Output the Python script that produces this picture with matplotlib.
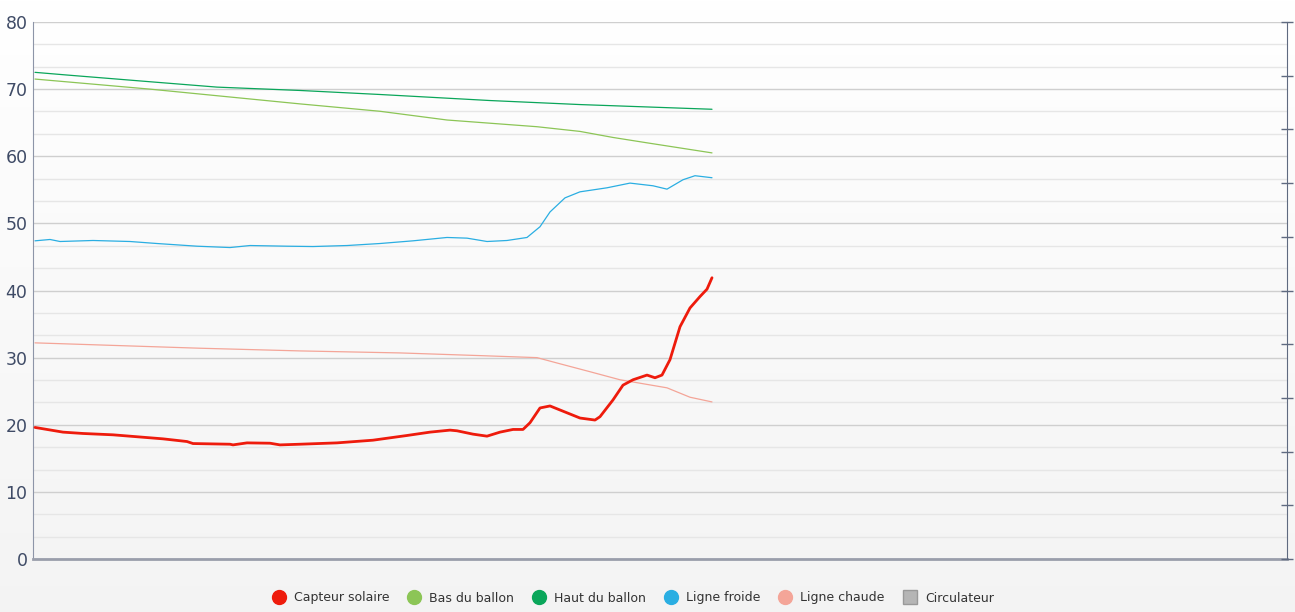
import numpy as np
import matplotlib
matplotlib.use('Agg')
import matplotlib.pyplot as plt
from matplotlib.lines import Line2D

# x values: time index, y values: temperature (deg C)
capteur_x = [0, 2.8, 4.8, 7.8, 12.8, 15.2, 15.8, 19.5, 19.8, 21.2, 23.5, 24.5, 26.5,
             30.2, 33.8, 37.2, 39.5, 41.5, 42.2, 43.8, 45.2, 46.5, 47.8, 48.8, 49.5,
             50.5, 51.5, 52.5, 54.5, 56.0, 56.5, 57.8, 58.8, 59.8, 61.2, 62.0, 62.7,
             63.5, 64.5, 65.5, 66.5, 67.2, 67.7]
capteur_y = [19.6, 18.9, 18.7, 18.5, 17.9, 17.5, 17.2, 17.1, 17.0, 17.3, 17.25, 17.0,
             17.1, 17.3, 17.7, 18.4, 18.9, 19.2, 19.1, 18.6, 18.3, 18.9, 19.3, 19.3,
             20.3, 22.5, 22.8, 22.2, 21.0, 20.7, 21.2, 23.7, 25.9, 26.7, 27.4, 27.0,
             27.4, 29.7, 34.6, 37.4, 39.1, 40.2, 41.9]

bas_x = [0, 11.5, 26.5, 34.5, 41.2, 50.2, 54.5, 57.8, 61.2, 67.7]
bas_y = [71.5, 70.0, 67.8, 66.7, 65.4, 64.4, 63.7, 62.8, 62.0, 60.5]

haut_x = [0, 3.2, 11.5, 18.2, 26.5, 34.5, 45.5, 54.5, 67.7]
haut_y = [72.5, 72.1, 71.1, 70.3, 69.8, 69.2, 68.3, 67.7, 67.0]

froide_x = [0, 1.5, 2.5, 5.8, 9.5, 12.2, 16.2, 19.5, 21.5, 25.2, 27.8, 31.2, 34.5,
            37.8, 41.2, 43.2, 45.2, 47.2, 49.2, 50.5, 51.5, 53.0, 54.5, 57.2, 59.5,
            61.8, 63.2, 64.8, 66.0, 67.7]
froide_y = [47.4, 47.6, 47.3, 47.45, 47.3, 47.0, 46.6, 46.4, 46.7, 46.6, 46.55, 46.7,
            47.0, 47.4, 47.9, 47.8, 47.3, 47.45, 47.9, 49.5, 51.7, 53.8, 54.7, 55.3,
            56.0, 55.6, 55.1, 56.5, 57.1, 56.8]

chaude_x = [0, 16.5, 26.5, 36.5, 44.5, 50.2, 52.2, 55.5, 58.5, 63.2, 65.5, 67.7]
chaude_y = [32.2, 31.4, 31.0, 30.7, 30.3, 30.0, 29.2, 27.9, 26.7, 25.5, 24.1, 23.4]

labels = ['Capteur solaire', 'Bas du ballon', 'Haut du ballon', 'Ligne froide',
          'Ligne chaude', 'Circulateur']
colors = ['#ee1b0c', '#8cc556', '#0aa65a', '#2aaee2', '#f4a598', '#b5b5b5']

fig = plt.figure(figsize=(12.95, 6.12), dpi=100)

# background gradient over the whole figure
bg = fig.add_axes([0, 0, 1, 1], zorder=-10)
grad = np.linspace(1.0, 0.955, 256).reshape(-1, 1)
bg.imshow(np.dstack([grad, grad, grad]), aspect='auto', extent=[0, 1, 0, 1])
bg.axis('off')

ax = fig.add_axes([33 / 1295, 53 / 612, 1254 / 1295, 537 / 612])
ax.patch.set_alpha(0)

kw = dict(solid_joinstyle='round', solid_capstyle='round')
ax.plot(chaude_x, chaude_y, color=colors[4], lw=0.9, zorder=3, **kw)
ax.plot(bas_x, bas_y, color=colors[1], lw=0.9, zorder=3, **kw)
ax.plot(haut_x, haut_y, color=colors[2], lw=0.9, zorder=3, **kw)
ax.plot(froide_x, froide_y, color=colors[3], lw=0.9, zorder=3, **kw)
ax.plot(capteur_x, capteur_y, color=colors[0], lw=2.0, zorder=4, **kw)

ax.set_xlim(-0.2, 125.2)
ax.set_ylim(0, 80)
ax.set_yticks(np.arange(0, 81, 10))
ax.set_yticks(np.arange(0, 80, 10 / 3), minor=True)
ax.set_xticks([])
ax.grid(True, which='major', axis='y', color='#cfcfcf', lw=1)
ax.grid(True, which='minor', axis='y', color='#e6e6e6', lw=1)
ax.tick_params(axis='y', which='both', length=0, labelsize=12.5, colors='#3f4b66', pad=4)
ax.spines['top'].set_visible(False)
ax.spines['right'].set_visible(False)
ax.spines['left'].set_color('#8d95a8')
ax.spines['bottom'].set_color('#9a9eab')
ax.spines['bottom'].set_linewidth(2)

# right axis with unlabeled ticks
ax2 = ax.twinx()
ax2.set_ylim(0, 10)
ax2.set_yticks(range(11))
ax2.set_yticklabels([])
ax2.tick_params(axis='y', direction='inout', length=8, color='#5f6a80', width=1)
for s in ['top', 'left', 'bottom']:
    ax2.spines[s].set_visible(False)
ax2.spines['right'].set_color('#5f6a80')

handles = []
for i, lab in enumerate(labels):
    mk = 's' if lab == 'Circulateur' else 'o'
    handles.append(Line2D([], [], linestyle='none', marker=mk, markersize=10,
                          markerfacecolor=colors[i],
                          markeredgecolor='#999999' if mk == 's' else colors[i],
                          label=lab))
fig.legend(handles=handles, loc='center', bbox_to_anchor=(630 / 1295, 14 / 612),
           ncol=6, frameon=False, fontsize=9, handletextpad=0.2, columnspacing=1.0,
           labelcolor='#333333')

fig.savefig('out.png', dpi=100)
